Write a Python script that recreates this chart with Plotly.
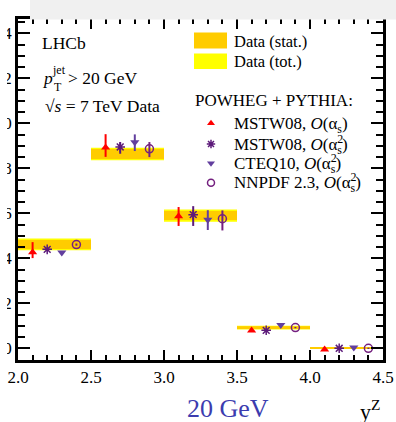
import plotly.graph_objects as go

# ---------------- data ----------------
bin_lo = [2.0, 2.5, 3.0, 3.5, 4.0]
bin_hi = [2.5, 3.0, 3.5, 4.0, 4.5]
data_val = [4.62, 8.64, 5.90, 0.92, 0.01]
data_stat = [0.20, 0.22, 0.20, 0.06, 0.012]
data_tot = [0.26, 0.28, 0.27, 0.08, 0.02]

x_mstw_as = [2.1, 2.6, 3.1, 3.6, 4.1]
mstw_as = [4.27, 8.93, 5.87, 0.79, -0.05]
mstw_as_up = [0.45, 0.59, 0.41, 0.03, 0.03]
mstw_as_dn = [0.26, 0.42, 0.43, 0.03, 0.03]

x_mstw_as2 = [2.2, 2.7, 3.2, 3.7, 4.2]
mstw_as2 = [4.40, 8.95, 5.94, 0.80, 0.0]
mstw_as2_up = [0.05, 0.22, 0.38, 0.03, 0.03]
mstw_as2_dn = [0.05, 0.30, 0.50, 0.03, 0.03]

x_cteq = [2.3, 2.8, 3.3, 3.8, 4.3]
cteq = [4.26, 9.16, 5.72, 1.04, 0.04]
cteq_up = [0.05, 0.35, 0.42, 0.03, 0.03]
cteq_dn = [0.05, 0.39, 0.46, 0.03, 0.03]

x_nnpdf = [2.4, 2.9, 3.4, 3.9, 4.4]
nnpdf = [4.61, 8.87, 5.76, 0.92, 0.0]
nnpdf_up = [0.05, 0.30, 0.37, 0.03, 0.03]
nnpdf_dn = [0.05, 0.37, 0.52, 0.03, 0.03]

y_ticks = [0, 2, 4, 6, 8, 10, 12, 14]
x_ticks = [2.0, 2.5, 3.0, 3.5, 4.0, 4.5]

# ---------------- style ----------------
FONT = "Liberation Serif"
RED = "#ff0000"
STAR = "#5c1a7a"
CTEQC = "#623f9e"
NNC = "#74207f"
ORANGE = "#ffcc00"
YELLOW = "#ffff00"
CLEAR = "<span style='color:rgba(0,0,0,0)'>{}</span>"

W, H = 396, 422
ML, MR, MT, MB = 18, 13, 19, 62
PW, PH = W - ML - MR, H - MT - MB


def px(x):
    return (x - ML) / PW


def py(y):
    return (H - MB - y) / PH


fig = go.Figure()

centers = [(a + b) / 2 for a, b in zip(bin_lo, bin_hi)]
widths = [b - a for a, b in zip(bin_lo, bin_hi)]

fig.add_trace(go.Bar(
    x=centers, y=[2 * t for t in data_tot], base=[v - t for v, t in zip(data_val, data_tot)],
    width=widths, marker=dict(color=YELLOW, line=dict(width=0)), showlegend=False))
fig.add_trace(go.Bar(
    x=centers, y=[2 * s for s in data_stat], base=[v - s for v, s in zip(data_val, data_stat)],
    width=widths, marker=dict(color=ORANGE, line=dict(width=0)), showlegend=False))


def pts(x, y, up, dn, sym, color, size, lw=1.5):
    fig.add_trace(go.Scatter(
        x=x, y=y, mode="markers",
        marker=dict(symbol=sym, color=color, size=size, line=dict(color=color, width=lw)),
        error_y=dict(type="data", symmetric=False, array=up, arrayminus=dn,
                     color=color, thickness=2, width=0),
        showlegend=False))


pts(x_mstw_as, mstw_as, mstw_as_up, mstw_as_dn, "triangle-up", RED, 8, 0)
pts(x_mstw_as2, mstw_as2, mstw_as2_up, mstw_as2_dn, "asterisk-open", STAR, 8, 1.5)
pts(x_cteq, cteq, cteq_up, cteq_dn, "triangle-down", CTEQC, 8, 0)
pts(x_nnpdf, nnpdf, nnpdf_up, nnpdf_dn, "circle-open", NNC, 8, 1.5)

# legend markers on an overlay axis in plot-fraction coordinates
leg_y_px = [123.3, 144.0, 163.3, 182.7]
leg_sym = ["triangle-up", "asterisk-open", "triangle-down", "circle-open"]
leg_col = [RED, STAR, CTEQC, NNC]
leg_lw = [0, 1.5, 0, 1.5]
for yy, s, c, lw in zip(leg_y_px, leg_sym, leg_col, leg_lw):
    fig.add_trace(go.Scatter(
        x=[px(211)], y=[py(yy)], xaxis="x2", yaxis="y2", mode="markers",
        marker=dict(symbol=s, color=c, size=7, line=dict(color=c, width=lw)),
        showlegend=False, hoverinfo="skip"))

shapes = []
shapes.append(dict(type="rect", xref="paper", yref="paper", x0=px(194), x1=px(227),
                   y0=py(48.5), y1=py(32.5), fillcolor=ORANGE, line=dict(width=0)))
shapes.append(dict(type="rect", xref="paper", yref="paper", x0=px(194), x1=px(227),
                   y0=py(69), y1=py(53.5), fillcolor=YELLOW, line=dict(width=0)))
shapes.append(dict(type="rect", xref="paper", yref="paper", x0=px(30), x1=px(400),
                   y0=py(19.5), y1=py(-5), fillcolor="#f0f0f0", line=dict(width=0), layer="above"))
shapes.append(dict(type="rect", xref="paper", yref="paper", x0=px(-5), x1=px(7),
                   y0=py(430), y1=py(-5), fillcolor="white", line=dict(width=0), layer="above"))

ann = []


def text(x, y, s, size=17, color="black", anchor="left"):
    ann.append(dict(xref="paper", yref="paper", x=px(x), y=py(y), text=s, showarrow=False,
                    xanchor=anchor, yanchor="middle", font=dict(family=FONT, size=size, color=color)))


text(40, 43, "LHCb", 17.5)
text(40, 78, "<i>p</i>", 17.5)
text(50, 70, "jet", 12)
text(52, 87, "T", 12)
text(66, 78, "> 20 GeV", 17.5)
text(43, 106, "√<i>s</i> = 7 TeV Data", 17.5)

text(232, 41.5, "Data (stat.)", 16.5)
text(232, 61.5, "Data (tot.)", 16.5)
text(193, 100.5, "POWHEG + PYTHIA:", 17)

leg_names = ["MSTW08, ", "MSTW08, ", "CTEQ10, ", "NNPDF 2.3, "]
leg_sq = [False, True, True, True]
for yy, name, sq in zip(leg_y_px, leg_names, leg_sq):
    head = name + "<i>O</i>(α"
    text(232, yy, head + "<sub>s</sub>)" + CLEAR.format("<sup>2</sup>"), 17)
    if sq:
        text(232, yy, CLEAR.format(head) + "<sup>2</sup>" + CLEAR.format("<sub>s</sub>)"), 17)

text(228, 408, "20 GeV", 26, "#3c3caf", "center")
text(358, 410, "y<sup>Z</sup>", 22)

axis_common = dict(showline=True, linecolor="black", linewidth=2.5, mirror="allticks",
                   ticks="inside", tickcolor="black", tickwidth=2, showgrid=False, zeroline=False,
                   tickfont=dict(family=FONT, size=17, color="black"))

fig.update_layout(
    width=W, height=H, margin=dict(l=ML, r=MR, t=MT, b=MB, autoexpand=False),
    paper_bgcolor="white", plot_bgcolor="white", barmode="overlay", showlegend=False,
    xaxis=dict(range=[2.0, 4.5], tickvals=x_ticks, ticktext=[f"{v:.1f}" for v in x_ticks],
               ticklen=10, minor=dict(dtick=0.1, ticklen=5, ticks="inside", tickcolor="black", tickwidth=2),
               automargin=False, **axis_common),
    yaxis=dict(range=[-0.52, 14.64], tickvals=y_ticks, ticktext=[str(v) for v in y_ticks],
               ticklen=12, minor=dict(dtick=0.5, ticklen=7, ticks="inside", tickcolor="black", tickwidth=2),
               automargin=False, ticklabelstandoff=0, **axis_common),
    xaxis2=dict(overlaying="x", range=[0, 1], visible=False),
    yaxis2=dict(overlaying="y", range=[0, 1], visible=False),
    shapes=shapes, annotations=ann,
)

fig.write_html("out.html", config={"displayModeBar": False},
               post_script="document.body.style.margin='0';document.body.style.overflow='hidden';")
